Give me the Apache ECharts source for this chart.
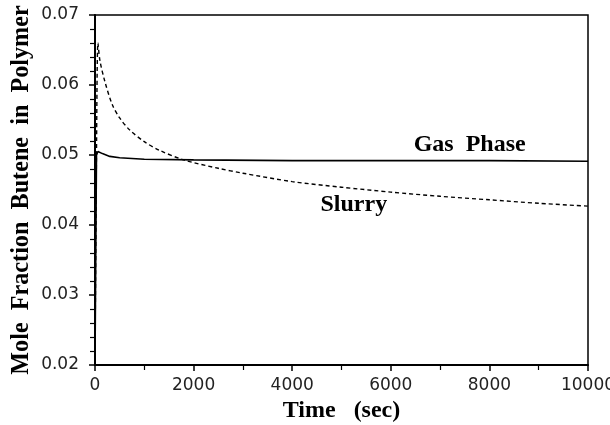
<!DOCTYPE html>
<html>
<head>
<meta charset="utf-8">
<script src="https://cdn.jsdelivr.net/npm/echarts@6/dist/echarts.min.js"></script>
<style>
  html, body { margin: 0; padding: 0; background: #fff; }
  #chart { width: 610px; height: 425px; }
</style>
</head>
<body>
<div id="chart"></div>
<script>
// Time axis (sec) and butene mole fraction in polymer for the two reactor modes
const slurryTime = [0, 30, 60, 100, 200, 350, 500, 700, 1000, 1300, 1800, 2500, 3000, 4000, 5000, 6000, 7000, 8000, 9000, 10000];
const slurryFrac = [0.020, 0.050, 0.0660, 0.0635, 0.0605, 0.0572, 0.0553, 0.0536, 0.0519, 0.0507, 0.0493, 0.0481, 0.0474, 0.0462, 0.0454, 0.0447, 0.0441, 0.0436, 0.0431, 0.0427];

const gasTime = [0, 30, 60, 150, 300, 500, 1000, 2000, 4000, 6000, 8000, 10000];
const gasFrac = [0.020, 0.0500, 0.0505, 0.0502, 0.0498, 0.0496, 0.0494, 0.0493, 0.0492, 0.0492, 0.0492, 0.0491];

const xTicks = [0, 2000, 4000, 6000, 8000, 10000];
const yTicks = [0.02, 0.03, 0.04, 0.05, 0.06, 0.07];

const seriesLabels = { gas: 'Gas  Phase', slurry: 'Slurry' };
const gasLabelAt = [7600, 0.0514];
const slurryLabelAt = [5250, 0.0429];

const pair = (xs, ys) => xs.map((x, i) => [x, ys[i]]);

const serif = '"Liberation Serif", "DejaVu Serif", serif';
const tickFont = { fontFamily: '"DejaVu Sans", sans-serif', fontSize: 17, color: '#222' };

const chart = echarts.init(document.getElementById('chart'));
chart.setOption({
  animation: false,
  backgroundColor: '#fff',
  grid: {
    left: 95, right: 22, top: 15, bottom: 60,
    outerBoundsMode: 'none', containLabel: false,
    show: true, borderColor: '#000', borderWidth: 1.5
  },
  xAxis: {
    type: 'value',
    min: xTicks[0], max: xTicks[xTicks.length - 1], interval: 2000,
    name: 'Time   (sec)', nameLocation: 'middle', nameGap: 34, nameMoveOverlap: false,
    nameTextStyle: { fontFamily: serif, fontWeight: 'bold', fontSize: 24, color: '#000' },
    axisLine: { lineStyle: { color: '#000', width: 2 } },
    axisTick: { length: 6, lineStyle: { color: '#000', width: 1.5 } },
    minorTick: { show: true, splitNumber: 2, length: 5, lineStyle: { color: '#000', width: 1.2 } },
    splitLine: { show: false },
    axisLabel: Object.assign({ margin: 12, formatter: v => String(v) }, tickFont)
  },
  yAxis: {
    type: 'value',
    min: yTicks[0], max: yTicks[yTicks.length - 1], interval: 0.01,
    name: 'Mole  Fraction  Butene  in  Polymer', nameLocation: 'middle', nameGap: 61, nameMoveOverlap: false,
    nameTextStyle: { fontFamily: serif, fontWeight: 'bold', fontSize: 24.2, color: '#000' },
    axisLine: { lineStyle: { color: '#000', width: 2 } },
    axisTick: { length: 6, lineStyle: { color: '#000', width: 1.5 } },
    minorTick: { show: true, splitNumber: 5, length: 5, lineStyle: { color: '#000', width: 1.2 } },
    splitLine: { show: false },
    axisLabel: Object.assign({ margin: 16, formatter: v => v.toFixed(2) }, tickFont)
  },
  series: [
    {
      type: 'line',
      data: pair(gasTime, gasFrac),
      showSymbol: false,
      lineStyle: { color: '#000', width: 1.6 },
      markPoint: {
        symbolSize: 0,
        data: [{ coord: gasLabelAt }],
        label: { show: true, formatter: seriesLabels.gas, fontFamily: serif, fontWeight: 'bold', fontSize: 24, color: '#000' }
      }
    },
    {
      type: 'line',
      data: pair(slurryTime, slurryFrac),
      smooth: 0.3,
      showSymbol: false,
      lineStyle: { color: '#000', width: 1.4, type: [4, 3] },
      markPoint: {
        symbolSize: 0,
        data: [{ coord: slurryLabelAt }],
        label: { show: true, formatter: seriesLabels.slurry, fontFamily: serif, fontWeight: 'bold', fontSize: 24, color: '#000' }
      }
    }
  ]
});
</script>
</body>
</html>
